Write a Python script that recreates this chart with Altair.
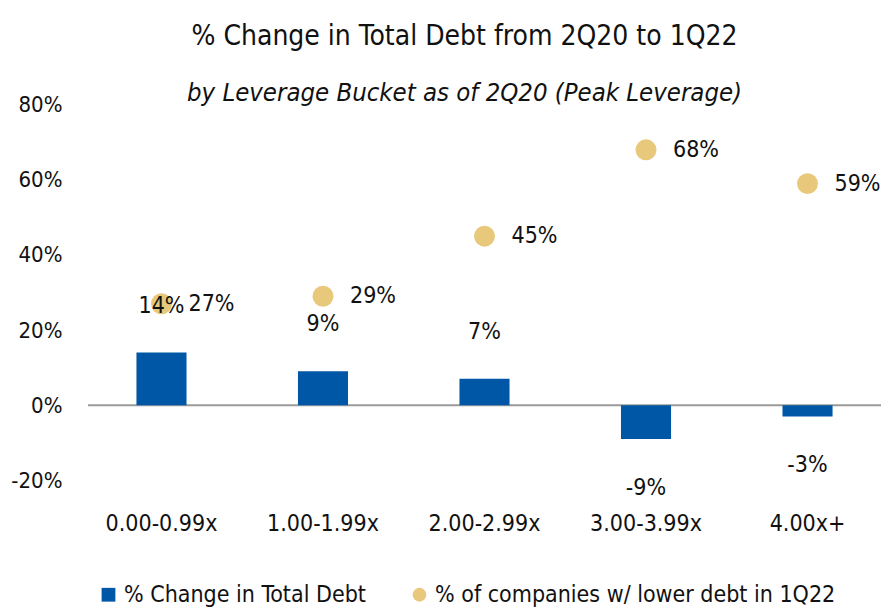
import altair as alt
import pandas as pd

categories = ["0.00-0.99x", "1.00-1.99x", "2.00-2.99x", "3.00-3.99x", "4.00x+"]
debt_change = [14, 9, 7, -9, -3]
lower_debt = [27, 29, 45, 68, 59]
series_names = ["% Change in Total Debt", "% of companies w/ lower debt in 1Q22"]

FONT = "DejaVu Sans Condensed, Liberation Sans Narrow, sans-serif"
BLUE = "#0057a6"
GOLD = "#e8c97c"
TXT = "#111111"

bars_df = pd.DataFrame({"cat": categories, "v": debt_change, "series": series_names[0]})
pts_df = pd.DataFrame({"cat": categories, "v": lower_debt, "series": series_names[1]})
zero_df = pd.DataFrame({"z": [0]})

x = alt.X("cat:N", sort=categories, title=None,
          scale=alt.Scale(paddingInner=0.69, paddingOuter=0.3),
          axis=alt.Axis(labelAngle=0, ticks=False, domain=False, labelFont=FONT,
                        labelFontSize=23, labelColor=TXT, labelPadding=13))
y = alt.Y("v:Q", title=None,
          scale=alt.Scale(domain=[-25, 85], nice=False, zero=False),
          axis=alt.Axis(values=[-20, 0, 20, 40, 60, 80], labelExpr="datum.value + '%'",
                        grid=False, ticks=False, domain=False, labelFont=FONT,
                        labelFontSize=22, labelColor=TXT, labelPadding=26))

legend_kw = dict(orient="none", legendX=9, legendY=497, direction="horizontal",
                 labelFont=FONT, labelFontSize=23, labelColor=TXT,
                 symbolSize=190, columnPadding=42, labelOffset=4,
                 labelLimit=500, symbolStrokeWidth=0)
color = alt.Color("series:N", title=None,
                  scale=alt.Scale(domain=series_names, range=[BLUE, GOLD]),
                  legend=alt.Legend(**legend_kw))
shape = alt.Shape("series:N", title=None,
                  scale=alt.Scale(domain=series_names, range=["square", "circle"]),
                  legend=alt.Legend(**legend_kw))

zero = alt.Chart(zero_df).mark_rule(color="#9a9a9a", strokeWidth=2).encode(y="z:Q")

bars = alt.Chart(bars_df).mark_bar().encode(x=x, y=y, color=color)

bar_lab_pos = alt.Chart(bars_df).transform_filter("datum.v >= 0").transform_calculate(
    lab="datum.v + '%'").mark_text(font=FONT, fontSize=23, color=TXT, baseline="middle", dy=-47
).encode(x=x, y=y, text="lab:N")
bar_lab_neg = alt.Chart(bars_df).transform_filter("datum.v < 0").transform_calculate(
    lab="datum.v + '%'").mark_text(font=FONT, fontSize=23, color=TXT, baseline="middle", dy=49
).encode(x=x, y=y, text="lab:N")

points = alt.Chart(pts_df).mark_point(filled=True, opacity=1, size=440, strokeWidth=0).encode(
    x=x, y=y, color=color, shape=shape)
pt_lab = alt.Chart(pts_df).transform_calculate(lab="datum.v + '%'").mark_text(
    font=FONT, fontSize=23, color=TXT, align="left", baseline="middle", dx=27
).encode(x=x, y=y, text="lab:N")

chart = alt.layer(zero, bars, points, bar_lab_pos, bar_lab_neg, pt_lab).properties(
    width=793, height=413,
    autosize=alt.AutoSizeParams(type="none"),
    padding={"left": 80, "top": 78, "right": 0, "bottom": 112},
    title=alt.TitleParams(
        text="% Change in Total Debt from 2Q20 to 1Q22",
        subtitle="by Leverage Bucket as of 2Q20 (Peak Leverage)",
        font=FONT, fontSize=28, fontWeight="normal", color=TXT,
        subtitleFont=FONT, subtitleFontSize=25.5, subtitleFontStyle="italic", subtitleColor=TXT,
        subtitlePadding=30, anchor="middle", dx=-20, offset=-20,
    ),
).configure_view(stroke=None)

chart.save("out.html", embed_options={"renderer": "svg", "actions": False})
